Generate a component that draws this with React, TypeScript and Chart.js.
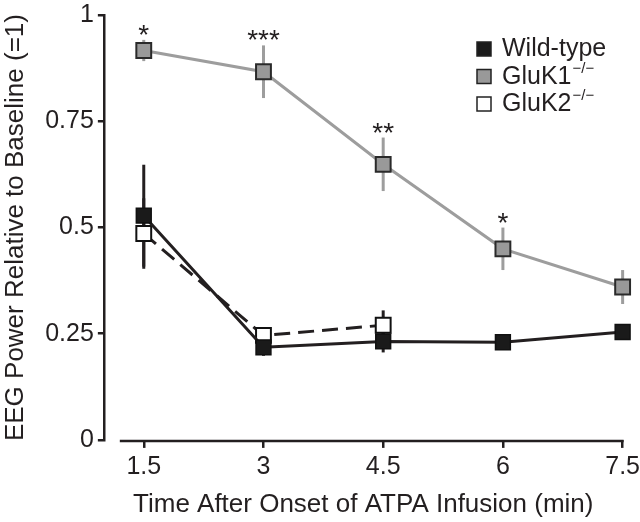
import { useEffect, useRef } from "react";
import { Chart, registerables } from "chart.js";

Chart.register(...registerables);

const times = [1.5, 3, 4.5, 6, 7.5];
const wildType = [0.528, 0.218, 0.232, 0.23, 0.254];
const wildTypeErr = [0.12, 0.02, 0.026, 0.012, 0.01];
const gluK1 = [0.917, 0.867, 0.649, 0.45, 0.36];
const gluK1Err = [0.025, 0.062, 0.063, 0.05, 0.04];
const gluK2Times = [1.5, 3, 4.5];
const gluK2 = [0.486, 0.246, 0.27];
const gluK2Err = [0.083, 0.015, 0.035];
const gluK1Stars = ["*", "***", "**", "*", ""];
const xTickLabels = ["1.5", "3", "4.5", "6", "7.5"];
const yTicks = [0, 0.25, 0.5, 0.75, 1];
const yTickLabels = ["0", "0.25", "0.5", "0.75", "1"];
const seriesNames = ["Wild-type", "GluK1", "GluK2"];
const seriesSup = ["", "\u2212/\u2212", "\u2212/\u2212"];
const xTitle = "Time After Onset of ATPA Infusion (min)";
const yTitle = "EEG Power Relative to Baseline (=1)";
const X_MIN = 1;
const X_MAX = 7.5;
const X_AXIS_START = 1.2;

const FAMILY = "'Liberation Sans', Arial, Helvetica, sans-serif";
const INK = "#231f20";
const GRAY_LINE = "#9d9d9d";
const GRAY_FILL = "#999999";

const errorBars = {
  id: "errorBars",
  beforeDatasetsDraw(chart: any) {
    const { ctx, scales } = chart;
    const x = scales.x;
    const y = scales.y;
    chart.data.datasets.forEach((ds: any) => {
      const errs: number[] = ds.errors || [];
      ctx.save();
      ctx.strokeStyle = ds.errorColor;
      ctx.lineWidth = 3;
      ds.data.forEach((p: any, j: number) => {
        const e = errs[j] || 0;
        const px = x.getPixelForValue(p.x);
        ctx.beginPath();
        ctx.moveTo(px, y.getPixelForValue(p.y - e));
        ctx.lineTo(px, y.getPixelForValue(p.y + e));
        ctx.stroke();
      });
      ctx.restore();
    });
  },
};

const xAxisLine = {
  id: "xAxisLine",
  afterDraw(chart: any) {
    const { ctx, scales, chartArea } = chart;
    const x = scales.x;
    ctx.save();
    ctx.strokeStyle = INK;
    ctx.lineWidth = 2.5;
    ctx.beginPath();
    const yy = chartArea.bottom + 1;
    ctx.moveTo(x.getPixelForValue(X_AXIS_START), yy);
    ctx.lineTo(x.getPixelForValue(X_MAX) + 1, yy);
    ctx.stroke();
    ctx.restore();
  },
};

const stars = {
  id: "stars",
  afterDatasetsDraw(chart: any) {
    const { ctx, scales } = chart;
    const x = scales.x;
    const y = scales.y;
    ctx.save();
    ctx.fillStyle = INK;
    ctx.font = `28px ${FAMILY}`;
    ctx.textAlign = "center";
    ctx.textBaseline = "alphabetic";
    times.forEach((t, j) => {
      const s = gluK1Stars[j];
      if (!s) return;
      const px = x.getPixelForValue(t);
      const py = y.getPixelForValue(gluK1[j] + gluK1Err[j]) + 4;
      ctx.fillText(s, px, py);
    });
    ctx.restore();
  },
};

const customLegend = {
  id: "customLegend",
  afterDraw(chart: any) {
    const { ctx } = chart;
    ctx.save();
    chart.data.datasets.forEach((ds: any, i: number) => {
      const base = 56 + i * 27.5;
      const cx = 484;
      const cy = base - 7;
      const s = 14;
      ctx.fillStyle = ds.pointBackgroundColor;
      ctx.fillRect(cx - s / 2, cy - s / 2, s, s);
      ctx.strokeStyle = "#222";
      ctx.lineWidth = 1.5;
      ctx.strokeRect(cx - s / 2, cy - s / 2, s, s);
      ctx.fillStyle = INK;
      ctx.font = `25px ${FAMILY}`;
      ctx.textAlign = "left";
      ctx.textBaseline = "alphabetic";
      const name = seriesNames[i];
      ctx.fillText(name, 502, base);
      const w = ctx.measureText(name).width;
      if (seriesSup[i]) {
        ctx.font = `15px ${FAMILY}`;
        ctx.fillText(seriesSup[i], 502 + w + 1, base - 11);
      }
    });
    ctx.restore();
  },
};

export default function App() {
  const ref = useRef<HTMLCanvasElement | null>(null);
  useEffect(() => {
    document.body.style.margin = "0";
    const canvas = ref.current;
    if (!canvas) return;
    const chart = new Chart(canvas, {
      type: "line",
      data: {
        datasets: [
          {
            label: seriesNames[0],
            data: times.map((t, i) => ({ x: t, y: wildType[i] })),
            errors: wildTypeErr,
            errorColor: INK,
            borderColor: INK,
            borderWidth: 3,
            pointStyle: "rect",
            pointRadius: 10.5,
            pointBackgroundColor: "#1a1a1a",
            pointBorderColor: "#111",
            pointBorderWidth: 1.5,
            tension: 0,
            clip: false,
          } as any,
          {
            label: seriesNames[1],
            data: times.map((t, i) => ({ x: t, y: gluK1[i] })),
            errors: gluK1Err,
            errorColor: GRAY_LINE,
            borderColor: GRAY_LINE,
            borderWidth: 3,
            pointStyle: "rect",
            pointRadius: 10.5,
            pointBackgroundColor: GRAY_FILL,
            pointBorderColor: "#2a2a2a",
            pointBorderWidth: 2,
            tension: 0,
            clip: false,
          } as any,
          {
            label: seriesNames[2],
            data: gluK2Times.map((t, i) => ({ x: t, y: gluK2[i] })),
            errors: gluK2Err,
            errorColor: INK,
            borderColor: INK,
            borderWidth: 3,
            borderDash: [16, 8],
            pointStyle: "rect",
            pointRadius: 10.5,
            pointBackgroundColor: "#ffffff",
            pointBorderColor: "#111",
            pointBorderWidth: 2,
            tension: 0,
            clip: false,
          } as any,
        ],
      },
      options: {
        animation: false,
        responsive: false,
        layout: { padding: { left: 0, right: -4, top: 0, bottom: 2 } },
        plugins: {
          legend: { display: false },
          tooltip: { enabled: false },
        },
        scales: {
          x: {
            type: "linear",
            min: X_MIN,
            max: X_MAX,
            afterBuildTicks: (s: any) => {
              s.ticks = times.map((v) => ({ value: v }));
            },
            ticks: {
              callback: (_v: any, i: number) => xTickLabels[i],
              font: { family: FAMILY, size: 25, lineHeight: 1.5 },
              color: INK,
              padding: 0,
              maxRotation: 0,
              autoSkip: false,
            },
            grid: {
              display: true,
              drawOnChartArea: false,
              drawTicks: true,
              tickLength: 8,
              color: INK,
              lineWidth: 2.5,
            },
            border: { display: false },
            title: {
              display: true,
              text: xTitle,
              font: { family: FAMILY, size: 26 },
              color: INK,
              padding: { top: 3.4, bottom: 0 },
            },
          },
          y: {
            min: 0,
            max: 1,
            afterBuildTicks: (s: any) => {
              s.ticks = yTicks.map((v) => ({ value: v }));
            },
            ticks: {
              callback: (_v: any, i: number) => yTickLabels[i],
              font: { family: FAMILY, size: 25, lineHeight: 0.9 },
              color: INK,
              padding: 4,
            },
            grid: {
              display: true,
              drawOnChartArea: false,
              drawTicks: true,
              tickLength: 6,
              color: INK,
              lineWidth: 2.5,
            },
            border: { display: true, color: INK, width: 2.5 },
            title: {
              display: true,
              text: yTitle,
              font: { family: FAMILY, size: 26 },
              color: INK,
              padding: { top: 0, bottom: 10 },
            },
          },
        },
      } as any,
      plugins: [errorBars, stars, xAxisLine, customLegend],
    });
    return () => chart.destroy();
  }, []);
  return (
    <div style={{ width: 640, height: 522 }}>
      <canvas ref={ref} width={640} height={522} />
    </div>
  );
}
